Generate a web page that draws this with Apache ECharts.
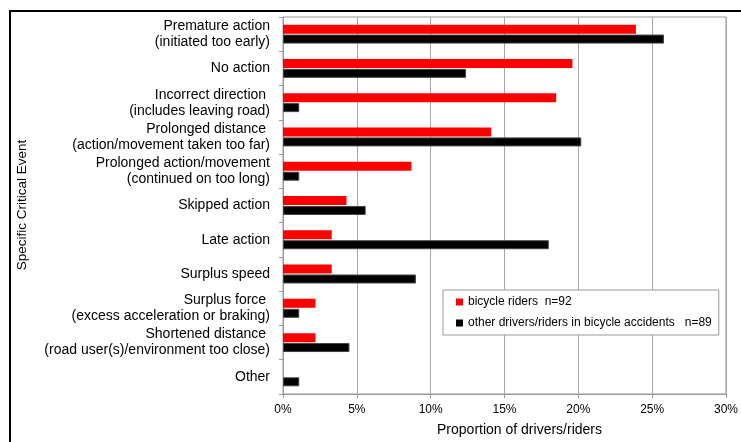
<!DOCTYPE html>
<html>
<head>
<meta charset="utf-8">
<script src="https://cdn.jsdelivr.net/npm/echarts@6/dist/echarts.min.js"></script>
<style>
html,body{margin:0;padding:0;background:#fff;}
#chart{width:741px;height:442px;}
</style>
</head>
<body>
<div id="chart"></div>
<script>
const categories = [
  'Premature action\n(initiated too early)',
  'No action',
  'Incorrect direction \n(includes leaving road)',
  'Prolonged distance \n(action/movement taken too far)',
  'Prolonged action/movement\n(continued on too long)',
  'Skipped action',
  'Late action',
  'Surplus speed',
  'Surplus force \n(excess acceleration or braking)',
  'Shortened distance \n(road user(s)/environment too close)',
  'Other'
];
const seriesNames = ['bicycle riders  n=92', 'other drivers/riders in bicycle accidents   n=89'];
const bicycleRiders = [23.9, 19.6, 18.5, 14.1, 8.7, 4.3, 3.3, 3.3, 2.2, 2.2, 0];
const otherDrivers = [25.8, 12.4, 1.1, 20.2, 1.1, 5.6, 18.0, 9.0, 1.1, 4.5, 1.1];
const xAxisTitle = 'Proportion of drivers/riders';
const yAxisTitle = 'Specific Critical Event';

const font = 'Liberation Sans, Arial, sans-serif';
const chart = echarts.init(document.getElementById('chart'), null, {renderer: 'canvas'});
chart.setOption({
  animation: false,
  backgroundColor: '#fff',
  textStyle: {fontFamily: font},
  graphic: [
    {type: 'rect', shape: {x: 10, y: 11, width: 800, height: 500}, style: {fill: 'none', stroke: '#000', lineWidth: 2}, z: 100},
    {type: 'text', x: 22, y: 205, rotation: Math.PI / 2,
     style: {text: yAxisTitle, font: '13.5px ' + font, fill: '#000', align: 'center', verticalAlign: 'middle'}}
  ],
  grid: {left: 283, right: 8, top: 17, bottom: 46, show: true, borderColor: '#999', borderWidth: 1, containLabel: false},
  legend: {
    orient: 'vertical', left: 443, top: 290,
    backgroundColor: '#fff', borderColor: '#999', borderWidth: 1,
    padding: [5, 7, 5, 13], itemWidth: 7, itemHeight: 7, itemGap: 7,
    icon: 'rect',
    itemStyle: {borderWidth: 0},
    textStyle: {fontSize: 12, fontFamily: font, color: '#000', lineHeight: 14},
    data: seriesNames
  },
  xAxis: {
    type: 'value', min: 0, max: 30, interval: 5,
    name: xAxisTitle, nameLocation: 'middle', nameGap: 29,
    nameTextStyle: {fontSize: 14, color: '#000', fontFamily: font, padding: [0, 0, 0, 30]},
    axisLine: {show: true, lineStyle: {color: '#999'}},
    axisTick: {show: true, length: 4, lineStyle: {color: '#999'}},
    axisLabel: {formatter: '{value}%', fontSize: 12, color: '#000', margin: 10, fontFamily: font},
    splitLine: {show: true, lineStyle: {color: '#a6a6a6', width: 1}}
  },
  yAxis: {
    type: 'category', inverse: true, data: categories,
    axisLine: {show: true, lineStyle: {color: '#999'}},
    axisTick: {show: true, length: 4, lineStyle: {color: '#999'}},
    axisLabel: {fontSize: 14, color: '#000', lineHeight: 16, margin: 13, align: 'right', fontFamily: font},
    splitLine: {show: false}
  },
  series: [
    {name: seriesNames[0], type: 'bar', data: bicycleRiders, barWidth: 9, barGap: '10%',
     itemStyle: {color: '#ff0000'}},
    {name: seriesNames[1], type: 'bar', data: otherDrivers, barWidth: 9, barGap: '10%',
     itemStyle: {color: '#000000', borderColor: '#444', borderWidth: 1}}
  ]
});
</script>
</body>
</html>
